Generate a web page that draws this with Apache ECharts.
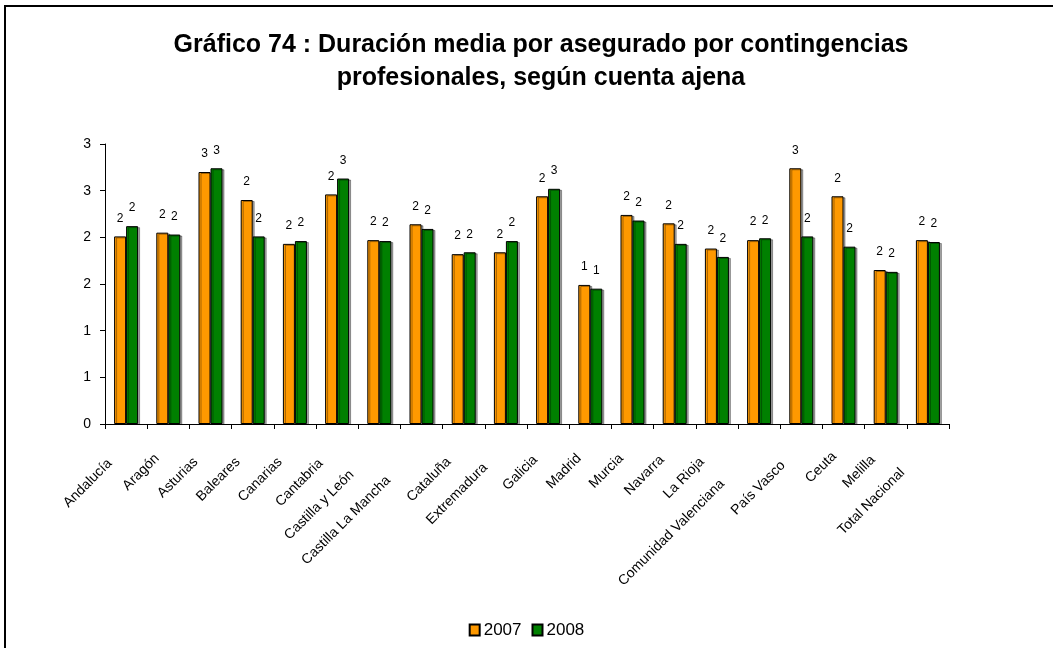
<!DOCTYPE html>
<html>
<head>
<meta charset="utf-8">
<script src="https://cdn.jsdelivr.net/npm/echarts@6/dist/echarts.min.js"></script>
<style>
html,body{margin:0;padding:0;background:#fff;}
#c{width:1053px;height:648px;}
</style>
</head>
<body>
<div id="c"></div>
<script>
var categories = ["Andalucía","Aragón","Asturias","Baleares","Canarias","Cantabria","Castilla y León","Castilla La Mancha","Cataluña","Extremadura","Galicia","Madrid","Murcia","Navarra","La Rioja","Comunidad Valenciana","País Vasco","Ceuta","Melilla","Total Nacional"];
var values2007 = [2.01,2.05,2.70,2.40,1.93,2.46,1.97,2.14,1.82,1.84,2.44,1.49,2.24,2.15,1.88,1.97,2.74,2.44,1.65,1.97];
var values2008 = [2.12,2.03,2.74,2.01,1.96,2.63,1.96,2.09,1.84,1.96,2.52,1.45,2.18,1.93,1.79,1.99,2.01,1.90,1.63,1.95];
var seriesNames = ["2007","2008"];
var titleText = "Gráfico 74 : Duración media por asegurado por contingencias\nprofesionales, según cuenta ajena";

var FONT = "'Liberation Sans', Arial, sans-serif";
var rich = {};
for (var p = 0; p <= 90; p++) {
  rich['p' + p] = {padding: [0, p, 0, 0], fontSize: 14, fontFamily: FONT, color: '#000'};
}

var chart = echarts.init(document.getElementById('c'), null, {renderer: 'canvas'});
var barStyle = function (color) {
  return {
    color: color,
    borderColor: '#000',
    borderWidth: 1,
    shadowColor: 'rgba(0,0,0,0.35)',
    shadowOffsetX: 2,
    shadowOffsetY: 1,
    shadowBlur: 0
  };
};
var dataLabel = {
  show: true,
  position: 'top',
  distance: 12,
  fontSize: 12,
  fontFamily: FONT,
  color: '#000',
  formatter: function (p) { return String(Math.round(p.value)); }
};
chart.setOption({
  animation: false,
  backgroundColor: '#fff',
  textStyle: {fontFamily: FONT},
  graphic: [{
    type: 'rect',
    shape: {x: 5, y: 6, width: 1200, height: 800},
    style: {fill: 'none', stroke: '#000', lineWidth: 2},
    silent: true
  }],
  title: {
    text: titleText,
    left: 536,
    top: 24,
    textAlign: 'center',
    textStyle: {fontSize: 25, fontWeight: 'bold', fontFamily: FONT, color: '#000', lineHeight: 33}
  },
  legend: {
    data: seriesNames,
    left: 'center',
    top: 620,
    padding: 0,
    itemWidth: 10,
    itemHeight: 11,
    itemGap: 10,
    icon: 'rect',
    textStyle: {fontSize: 17, fontFamily: FONT, color: '#000', lineHeight: 20, padding: [0, 0, 0, -1]}
  },
  grid: {left: 105, top: 144, width: 844, height: 280, containLabel: false},
  xAxis: {
    type: 'category',
    data: categories,
    axisLine: {lineStyle: {color: '#000', width: 1}},
    axisTick: {show: true, length: 5, lineStyle: {color: '#000'}},
    axisLabel: {
      interval: 0,
      rotate: 45,
      margin: 21,
      fontSize: 14,
      color: '#000',
      formatter: function (v) {
        var pad = Math.round(v.length * 2.6);
        return '{p' + pad + '|' + v + '}';
      },
      rich: rich
    }
  },
  yAxis: {
    type: 'value',
    min: 0,
    max: 3,
    interval: 0.5,
    axisLine: {show: true, lineStyle: {color: '#000', width: 1}},
    axisTick: {show: true, length: 5, lineStyle: {color: '#000'}},
    splitLine: {show: false},
    axisLabel: {
      fontSize: 14,
      color: '#000',
      margin: 14,
      formatter: function (v) { return String(Math.round(v)); }
    }
  },
  series: [
    {name: seriesNames[0], type: 'bar', data: values2007, barWidth: 12, barGap: '0%', itemStyle: barStyle('#FF9900'), label: dataLabel},
    {name: seriesNames[1], type: 'bar', data: values2008, barWidth: 12, barGap: '0%', itemStyle: barStyle('#008000'), label: dataLabel}
  ]
});
</script>
</body>
</html>
